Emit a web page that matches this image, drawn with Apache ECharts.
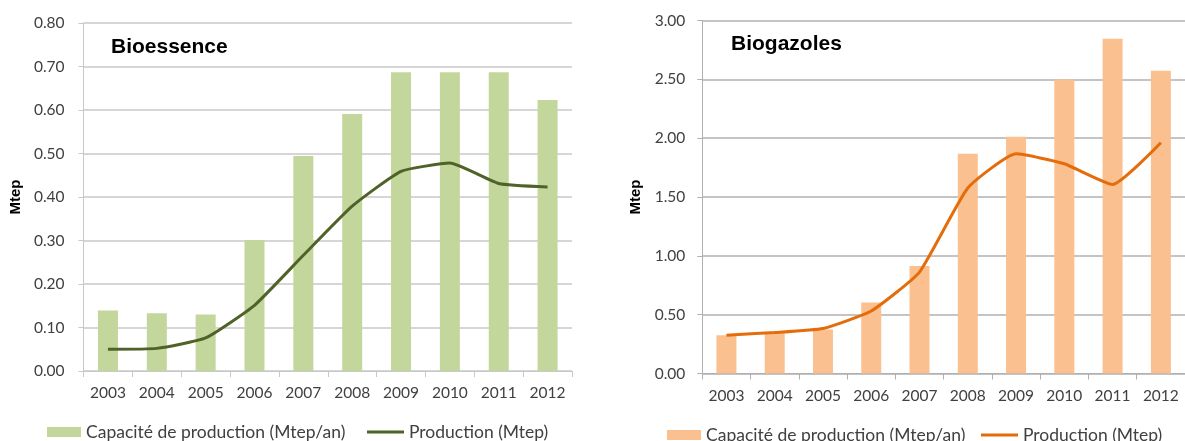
<!DOCTYPE html>
<html>
<head>
<meta charset="utf-8">
<script src="https://cdn.jsdelivr.net/npm/echarts/dist/echarts.min.js"></script>
<style>
html,body{margin:0;padding:0;background:#fff;}
#c1{position:absolute;left:0;top:0;width:600px;height:441px;}
#c2{position:absolute;left:600px;top:0;width:585px;height:441px;}
</style>
</head>
<body>
<div id="c1"></div>
<div id="c2"></div>
<script>
const years = ['2003','2004','2005','2006','2007','2008','2009','2010','2011','2012'];
const bioessenceCapacity = [0.139,0.133,0.130,0.301,0.494,0.591,0.687,0.687,0.687,0.623];
const bioessenceProduction = [0.050,0.052,0.076,0.151,0.266,0.379,0.459,0.478,0.431,0.423];
const biogazolesCapacity = [0.325,0.348,0.373,0.603,0.913,1.867,2.011,2.498,2.844,2.572];
const biogazolesProduction = [0.326,0.348,0.382,0.531,0.862,1.576,1.867,1.783,1.607,1.961];
const capName = 'Capacité de production (Mtep/an)';
const prodName = 'Production (Mtep)';

const FONT = 'Lato';
const TXT = '#404040';

function makeOption(cfg) {
  return {
    animation: false,
    textStyle: {fontFamily: FONT},
    grid: {left: cfg.gridLeft, top: cfg.gridTop, width: 490, height: cfg.gridHeight, containLabel: false},
    graphic: [{
      type: 'text', left: cfg.titleX, top: cfg.titleY,
      style: {text: cfg.title, font: 'bold 21px "Liberation Sans", Arial, sans-serif', fill: '#000'}
    }],
    legend: [{
      data: [{name: capName, icon: 'rect'}], left: cfg.leg1X, top: cfg.legY, padding: 0,
      itemWidth: 34, itemHeight: 10,
      textStyle: {fontFamily: FONT, fontSize: 17.5, color: TXT}, selectedMode: false
    }, {
      data: [{name: prodName, icon: 'rect'}], left: cfg.leg2X, top: cfg.legY, padding: 0,
      itemWidth: 37, itemHeight: 3,
      textStyle: {fontFamily: FONT, fontSize: 17.5, color: TXT}, selectedMode: false
    }],
    xAxis: {
      type: 'category', data: years,
      axisLine: {show: true, lineStyle: {color: cfg.gridColor, width: 1}},
      axisTick: {show: true, length: 6, lineStyle: {color: cfg.gridColor}},
      axisLabel: {fontSize: 15.5, color: TXT, margin: 14, fontFamily: FONT, interval: 0}
    },
    yAxis: {
      type: 'value', min: 0, max: cfg.yMax, interval: cfg.yInterval,
      name: 'Mtep', nameLocation: 'middle', nameRotate: 90, nameGap: cfg.nameGap,
      nameTextStyle: {fontFamily: '"Liberation Sans", Arial, sans-serif', fontWeight: 'bold', fontSize: 15, color: '#000'},
      axisLine: {show: true, lineStyle: {color: cfg.gridColor, width: 1}},
      axisTick: {show: true, length: 5, lineStyle: {color: cfg.gridColor}},
      splitLine: {show: true, lineStyle: {color: cfg.gridColor, width: 1.5}},
      axisLabel: {fontSize: 15.5, color: TXT, margin: cfg.labelMargin, fontFamily: FONT, formatter: v => v.toFixed(2)}
    },
    series: [{
      name: capName, type: 'bar', data: cfg.cap, barWidth: 20,
      itemStyle: {color: cfg.barColor}
    }, {
      name: prodName, type: 'line', data: cfg.prod, smooth: 0.15, symbol: 'none', showSymbol: false, z: 5,
      lineStyle: {color: cfg.lineColor, width: 3}, itemStyle: {color: cfg.lineColor}
    }]
  };
}

const chart1 = echarts.init(document.getElementById('c1'), null, {renderer: 'canvas'});
chart1.setOption(makeOption({
  gridLeft: 82, gridTop: 23, gridHeight: 348, yMax: 0.8, yInterval: 0.1,
  nameGap: 56, labelMargin: 19, gridColor: '#c8c8c8',
  title: 'Bioessence', titleX: 111, titleY: 37,
  leg1X: 47, leg2X: 367, legY: 423,
  cap: bioessenceCapacity, prod: bioessenceProduction,
  barColor: '#c3d69b', lineColor: '#4f6228'
}));

const chart2 = echarts.init(document.getElementById('c2'), null, {renderer: 'canvas'});
chart2.setOption(makeOption({
  gridLeft: 102.3, gridTop: 20.5, gridHeight: 353, yMax: 3, yInterval: 0.5,
  nameGap: 56, labelMargin: 17, gridColor: '#b0b0b0',
  title: 'Biogazoles', titleX: 131, titleY: 34,
  leg1X: 67, leg2X: 381, legY: 426,
  cap: biogazolesCapacity, prod: biogazolesProduction,
  barColor: '#fac090', lineColor: '#e46c0a'
}));
</script>
</body>
</html>
